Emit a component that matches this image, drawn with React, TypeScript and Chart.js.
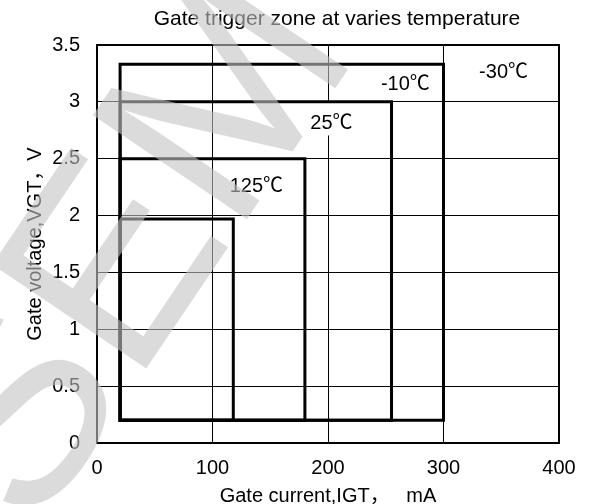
import React, { useEffect, useRef } from "react";
import { Chart, registerables } from "chart.js";

Chart.register(...registerables);

// ---- data ----
const temperatures = ["-30℃", "-10℃", "25℃", "125℃"];
const igtMin = [20, 20, 20, 20];
const igtMax = [300, 255, 180, 118];
const vgtMin = [0.2, 0.2, 0.2, 0.2];
const vgtMax = [3.33, 3.0, 2.5, 1.97];
// label anchors (data coordinates)
const labelIgt = [352, 267, 203, 138];
const labelVgt = [3.26, 3.15, 2.81, 2.26];

const xTickValues = [0, 100, 200, 300, 400];
const yTickValues = [0, 0.5, 1, 1.5, 2, 2.5, 3, 3.5];

const chartTitle = "Gate trigger zone at varies temperature";
const xTitle = "Gate current,IGT，   mA";
const yTitle = "Gate voltage,VGT，V";
const watermark = "SEM";

const FONT = '"Liberation Sans", Arial, "Noto Sans CJK SC", sans-serif';

const framePlugin = {
  id: "frameAndLabels",
  beforeDatasetsDraw(chart: any) {
    const { ctx, scales } = chart;
    const x = scales.x;
    const y = scales.y;
    ctx.save();
    ctx.font = `20px ${FONT}`;
    ctx.textAlign = "center";
    ctx.textBaseline = "middle";
    temperatures.forEach((t, i) => {
      const px = x.getPixelForValue(labelIgt[i]);
      const py = y.getPixelForValue(labelVgt[i]);
      const w = ctx.measureText(t).width;
      ctx.fillStyle = "#ffffff";
      ctx.fillRect(px - w / 2 - 10, py - 21, w + 20, 33);
      ctx.fillStyle = "#000000";
      ctx.fillText(t, px, py);
    });
    const a = chart.chartArea;
    ctx.strokeStyle = "#000";
    ctx.lineWidth = 2;
    ctx.strokeRect(a.left, a.top, a.right - a.left, a.bottom - a.top);
    ctx.restore();
  },
  afterDraw(chart: any) {
    const { ctx } = chart;
    ctx.save();
    ctx.font = `21px ${FONT}`;
    ctx.textAlign = "center";
    ctx.textBaseline = "middle";
    ctx.fillStyle = "#000";
    ctx.fillText(chartTitle, 337, 19);
    ctx.restore();

    ctx.save();
    ctx.translate(135, 252);
    ctx.rotate((-56 * Math.PI) / 180);
    ctx.font = `270px ${FONT}`;
    ctx.textAlign = "center";
    ctx.textBaseline = "middle";
    ctx.fillStyle = "rgba(195,195,195,0.6)";
    ctx.fillText(watermark, 0, 0);
    ctx.restore();
  },
};

export default function App() {
  const ref = useRef<HTMLCanvasElement>(null);
  useEffect(() => {
    document.body.style.margin = "0";
    const canvas = ref.current!;
    const datasets = temperatures.map((t, i) => ({
      label: t,
      data: [
        { x: igtMin[i], y: vgtMin[i] },
        { x: igtMin[i], y: vgtMax[i] },
        { x: igtMax[i], y: vgtMax[i] },
        { x: igtMax[i], y: vgtMin[i] },
        { x: igtMin[i], y: vgtMin[i] },
      ],
      showLine: true,
      borderColor: "#000",
      backgroundColor: "#000",
      borderWidth: 3,
      pointRadius: 0,
      fill: false,
      tension: 0,
      borderJoinStyle: "miter" as const,
      borderCapStyle: "square" as const,
    }));
    const chart = new Chart(canvas, {
      type: "scatter",
      data: { datasets },
      plugins: [framePlugin],
      options: {
        animation: false,
        responsive: false,
        devicePixelRatio: 1,
        layout: { padding: { top: 45, right: 35, left: 0, bottom: 0 } },
        plugins: {
          legend: { display: false },
          tooltip: { enabled: false },
          title: { display: false },
        },
        scales: {
          x: {
            type: "linear",
            min: xTickValues[0],
            max: xTickValues[xTickValues.length - 1],
            afterBuildTicks: (s: any) => {
              s.ticks = xTickValues.map((v) => ({ value: v }));
            },
            afterFit: (s: any) => {
              s.height = 61;
            },
            ticks: {
              color: "#000",
              font: { family: FONT, size: 20 },
              padding: 13,
              maxRotation: 0,
              callback: (v: any) => String(v),
            },
            grid: { color: "#000", lineWidth: 1, drawTicks: false },
            border: { color: "#000", width: 2 },
            title: {
              display: true,
              text: xTitle,
              color: "#000",
              font: { family: FONT, size: 20, lineHeight: 0.75 },
              padding: 0,
            },
          },
          y: {
            type: "linear",
            min: yTickValues[0],
            max: yTickValues[yTickValues.length - 1],
            afterBuildTicks: (s: any) => {
              s.ticks = yTickValues.map((v) => ({ value: v }));
            },
            afterFit: (s: any) => {
              s.width = 97;
            },
            ticks: {
              color: "#000",
              font: { family: FONT, size: 20 },
              padding: 17,
              callback: (v: any) => String(v),
            },
            grid: { color: "#000", lineWidth: 1, drawTicks: false },
            border: { color: "#000", width: 2 },
            title: {
              display: true,
              text: yTitle,
              color: "#000",
              font: { family: FONT, size: 20, lineHeight: 1.2 },
              padding: { top: 23, bottom: 0 },
            },
          },
        },
      },
    });
    return () => chart.destroy();
  }, []);
  return (
    <canvas
      ref={ref}
      width={594}
      height={504}
      style={{ display: "block", width: 594, height: 504 }}
    />
  );
}
